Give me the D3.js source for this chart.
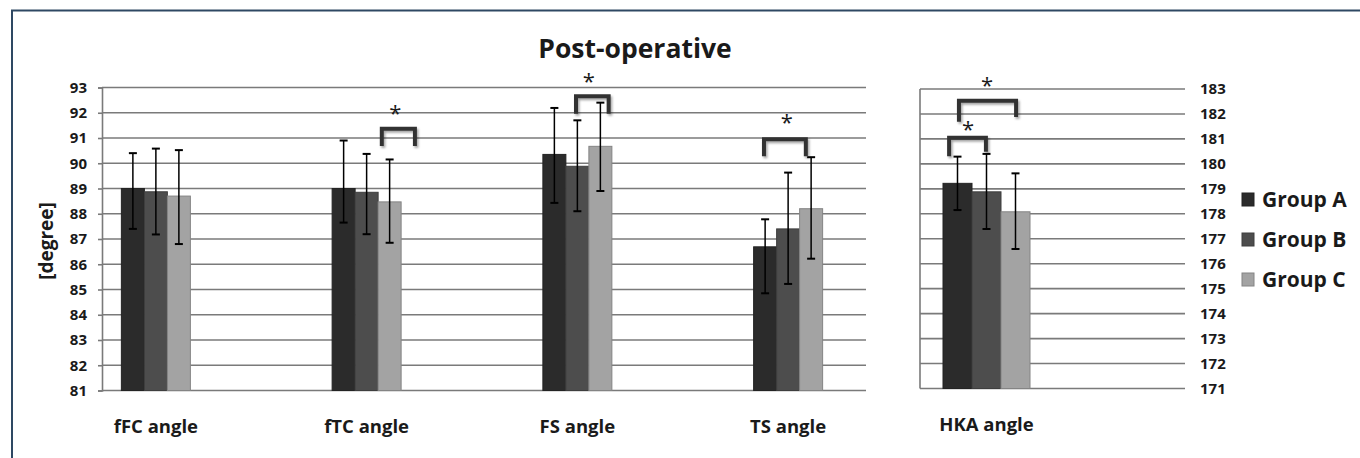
<!DOCTYPE html>
<html>
<head>
<meta charset="utf-8">
<script src="https://cdn.jsdelivr.net/npm/d3@7"></script>
<style>
  body { margin: 0; background: #fff; }
  svg { display: block; }
  text { font-family: "Open Sans", "DejaVu Sans", sans-serif; font-weight: 700; fill: #1a1a1a; }
</style>
</head>
<body>
<div id="chart"></div>
<script>
// categories in the left panel (degree scale 81..93)
const categories = ["fFC angle", "fTC angle", "FS angle", "TS angle"];
const groups = ["Group A", "Group B", "Group C"];
const groupColors = ["#2b2b2b", "#4d4d4d", "#a3a3a3"];

// means and error-bar ends
const meanA = [89.0, 89.0, 90.35, 86.69];
const meanB = [88.87, 88.85, 89.88, 87.4];
const meanC = [88.7, 88.47, 90.67, 88.2];
const highA = [90.4, 90.9, 92.19, 87.78];
const highB = [90.58, 90.37, 91.7, 89.63];
const highC = [90.52, 90.15, 92.4, 90.24];
const lowA = [87.4, 87.65, 88.43, 84.85];
const lowB = [87.18, 87.19, 88.1, 85.22];
const lowC = [86.8, 86.85, 88.9, 86.22];

// right panel (HKA angle, scale 171..183)
const hkaCategory = ["HKA angle"];
const hkaMean = [179.22, 178.88, 178.08];
const hkaHigh = [180.29, 180.4, 179.62];
const hkaLow = [178.15, 177.39, 176.59];

const leftTicks = d3.range(81, 94);
const rightTicks = d3.range(171, 184);

// significance brackets: from/to in bar units inside the group, levels in data units
const leftBrackets = [
  { cat: "fTC angle", from: 2.16, to: 3.6, top: 91.37, legL: 90.68, legR: 90.68, star: 2.75, starY: 92.1 },
  { cat: "FS angle", from: 1.44, to: 2.86, top: 92.65, legL: 91.96, legR: 91.96, star: 2.0, starY: 93.38 },
  { cat: "TS angle", from: 0.45, to: 2.27, top: 90.95, legL: 90.28, legR: 90.28, star: 1.44, starY: 91.75 }
];
const hkaBrackets = [
  { cat: "HKA angle", from: 0.21, to: 1.48, top: 181.05, legL: 180.31, legR: 180.49, star: 0.86, starY: 181.5 },
  { cat: "HKA angle", from: 0.55, to: 2.52, top: 182.53, legL: 181.69, legR: 181.88, star: 1.52, starY: 183.3 }
];

const width = 1360, height = 458;
const svg = d3.select("#chart").append("svg")
  .attr("width", width)
  .attr("height", height);

const defs = svg.append("defs");
const shadow = defs.append("filter").attr("id", "shadow")
  .attr("x", "-20%").attr("y", "-20%").attr("width", "150%").attr("height", "160%");
shadow.append("feDropShadow")
  .attr("dx", 1.5).attr("dy", 2).attr("stdDeviation", 1.2)
  .attr("flood-color", "#000").attr("flood-opacity", 0.35);

// outer frame (top and left edges are visible)
svg.append("path")
  .attr("d", "M12,458 L12,10.5 L1360,10.5")
  .attr("fill", "none")
  .attr("stroke", "#2e4863")
  .attr("stroke-width", 2);

// title
svg.append("text")
  .attr("x", 635).attr("y", 58)
  .attr("text-anchor", "middle")
  .style("font-size", "26.5px")
  .text("Post-operative");

// ---------- left panel ----------
const yL = d3.scaleLinear().domain([81, 93]).range([390.5, 87.5]);
const xL = d3.scaleBand().domain(categories).range([50.5, 893.5]);
const groupWidthL = 69;
const xInnerL = d3.scaleBand().domain(groups).range([0, groupWidthL]);
const leftX0 = 102, leftX1 = 866;

const left = svg.append("g");

left.append("g")
  .selectAll("line")
  .data(leftTicks)
  .join("line")
  .attr("x1", leftX0).attr("x2", leftX1)
  .attr("y1", d => yL(d)).attr("y2", d => yL(d))
  .attr("stroke", "#7a7a7a")
  .attr("stroke-width", 1.6);

const axisL = left.append("g")
  .attr("transform", `translate(${leftX0},0)`)
  .call(d3.axisLeft(yL).tickValues(leftTicks).tickSize(4).tickPadding(11).tickFormat(d3.format("d")));
axisL.select(".domain").attr("stroke", "#7a7a7a").attr("stroke-width", 1.6);
axisL.selectAll(".tick line").attr("stroke", "#7a7a7a").attr("stroke-width", 1.6);
axisL.selectAll(".tick text")
  .style("font-family", "'Open Sans', sans-serif")
  .style("font-weight", 700)
  .style("font-size", "15px")
  .attr("fill", "#1a1a1a");

// y label
svg.append("text")
  .attr("transform", "translate(53,241) rotate(-90)")
  .attr("text-anchor", "middle")
  .style("font-size", "19px")
  .text("[degree]");

const meansL = [meanA, meanB, meanC];
const highsL = [highA, highB, highC];
const lowsL = [lowA, lowB, lowC];

const rowsL = [];
categories.forEach((c, i) => {
  groups.forEach((g, j) => {
    rowsL.push({ cat: c, group: g, j, mean: meansL[j][i], high: highsL[j][i], low: lowsL[j][i] });
  });
});

function barX(xs, xi, gw, d) {
  return xs(d.cat) + xs.bandwidth() / 2 - gw / 2 + xi(d.group);
}

left.append("g")
  .selectAll("rect")
  .data(rowsL)
  .join("rect")
  .attr("x", d => barX(xL, xInnerL, groupWidthL, d))
  .attr("y", d => yL(d.mean))
  .attr("width", xInnerL.bandwidth())
  .attr("height", d => yL(81) - yL(d.mean))
  .attr("fill", d => groupColors[d.j])
  .attr("stroke", d => d3.color(groupColors[d.j]).darker(0.6))
  .attr("stroke-width", 1);

function drawErrors(g, rows, xs, xi, gw, y, cap) {
  const eg = g.append("g").attr("stroke", "#000").attr("stroke-width", 1.5);
  rows.forEach(d => {
    const cx = barX(xs, xi, gw, d) + xi.bandwidth() / 2;
    eg.append("line").attr("x1", cx).attr("x2", cx).attr("y1", y(d.high)).attr("y2", y(d.low));
    eg.append("line").attr("x1", cx - cap).attr("x2", cx + cap).attr("y1", y(d.high)).attr("y2", y(d.high)).attr("stroke-width", 2);
    eg.append("line").attr("x1", cx - cap).attr("x2", cx + cap).attr("y1", y(d.low)).attr("y2", y(d.low)).attr("stroke-width", 2);
  });
}
drawErrors(left, rowsL, xL, xInnerL, groupWidthL, yL, 4);

left.append("g")
  .selectAll("text")
  .data(categories)
  .join("text")
  .attr("x", d => xL(d) + xL.bandwidth() / 2)
  .attr("y", 433)
  .attr("text-anchor", "middle")
  .style("font-size", "18.5px")
  .text(d => d);

function drawBrackets(g, list, xs, gw, y, unitW) {
  list.forEach(b => {
    const gx = xs(b.cat) + xs.bandwidth() / 2 - gw / 2;
    const u = d3.scaleLinear().domain([0, 1]).range([gx, gx + unitW]);
    g.append("path")
      .attr("d", `M${u(b.from)},${y(b.legL)} L${u(b.from)},${y(b.top)} L${u(b.to)},${y(b.top)} L${u(b.to)},${y(b.legR)}`)
      .attr("fill", "none")
      .attr("stroke", "#333")
      .attr("stroke-width", 4)
      .attr("filter", "url(#shadow)");
    g.append("text")
      .attr("x", u(b.star))
      .attr("y", y(b.starY))
      .attr("dy", "0.5em")
      .attr("text-anchor", "middle")
      .style("font-size", "22px")
      .style("font-weight", 400)
      .text("*");
  });
}
drawBrackets(left, leftBrackets, xL, groupWidthL, yL, xInnerL.bandwidth());

// ---------- right panel ----------
const yR = d3.scaleLinear().domain([171, 183]).range([388.5, 89]);
const xR = d3.scaleBand().domain(hkaCategory).range([920, 1053]);
const groupWidthR = 87;
const xInnerR = d3.scaleBand().domain(groups).range([0, groupWidthR]);
const rightX0 = 920, rightX1 = 1185;

const right = svg.append("g");

right.append("g")
  .selectAll("line")
  .data(rightTicks)
  .join("line")
  .attr("x1", rightX0).attr("x2", rightX1)
  .attr("y1", d => yR(d)).attr("y2", d => yR(d))
  .attr("stroke", "#7a7a7a")
  .attr("stroke-width", 1.6);

right.append("line")
  .attr("x1", rightX0).attr("x2", rightX0)
  .attr("y1", yR(183)).attr("y2", yR(171))
  .attr("stroke", "#7a7a7a")
  .attr("stroke-width", 1.6);

const axisR = right.append("g")
  .attr("transform", `translate(${rightX1},0)`)
  .call(d3.axisRight(yR).tickValues(rightTicks).tickSize(0).tickPadding(15).tickFormat(d3.format("d")));
axisR.select(".domain").remove();
axisR.selectAll(".tick text")
  .style("font-family", "'Open Sans', sans-serif")
  .style("font-weight", 700)
  .style("font-size", "15px")
  .attr("fill", "#1a1a1a");

const rowsR = groups.map((g, j) => ({ cat: hkaCategory[0], group: g, j, mean: hkaMean[j], high: hkaHigh[j], low: hkaLow[j] }));

right.append("g")
  .selectAll("rect")
  .data(rowsR)
  .join("rect")
  .attr("x", d => barX(xR, xInnerR, groupWidthR, d))
  .attr("y", d => yR(d.mean))
  .attr("width", xInnerR.bandwidth())
  .attr("height", d => yR(171) - yR(d.mean))
  .attr("fill", d => groupColors[d.j])
  .attr("stroke", d => d3.color(groupColors[d.j]).darker(0.6))
  .attr("stroke-width", 1);

drawErrors(right, rowsR, xR, xInnerR, groupWidthR, yR, 4);

right.append("text")
  .attr("x", xR(hkaCategory[0]) + xR.bandwidth() / 2)
  .attr("y", 431)
  .attr("text-anchor", "middle")
  .style("font-size", "18.5px")
  .text(hkaCategory[0]);

drawBrackets(right, hkaBrackets, xR, groupWidthR, yR, xInnerR.bandwidth());

// legend
const legend = svg.append("g").attr("transform", "translate(1242,0)");
const legItem = legend.selectAll("g")
  .data(groups)
  .join("g")
  .attr("transform", (d, i) => `translate(0,${199.5 + i * 40})`);
legItem.append("rect")
  .attr("x", 0).attr("y", -6.5)
  .attr("width", 12).attr("height", 13)
  .attr("fill", (d, i) => groupColors[i])
  .attr("stroke", (d, i) => d3.color(groupColors[i]).darker(0.6));
legItem.append("text")
  .attr("x", 20).attr("y", 7.5)
  .style("font-size", "21px")
  .text(d => d);
</script>
</body>
</html>
